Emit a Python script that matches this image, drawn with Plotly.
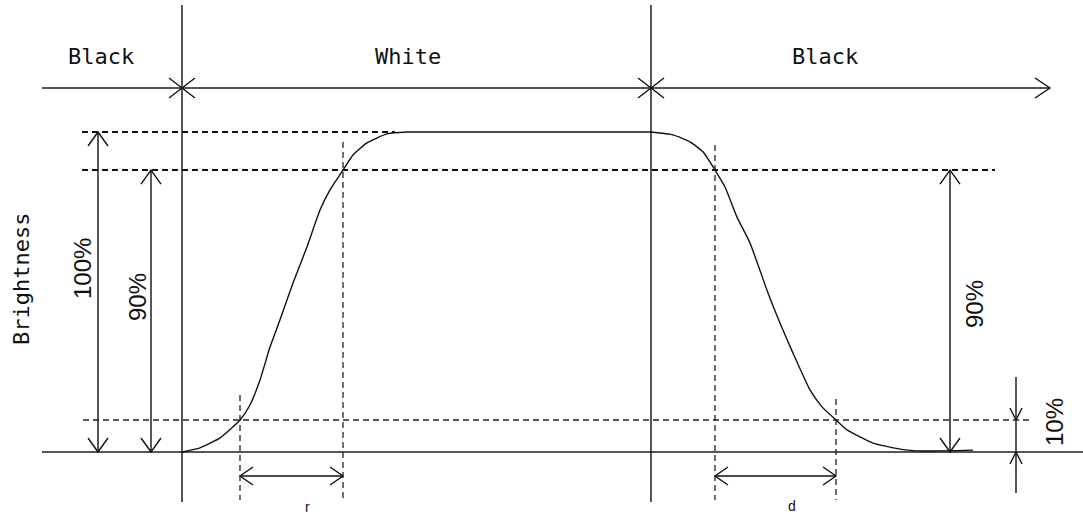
import plotly.graph_objects as go

# ---- diagram data (x: time units, y: brightness %) ----
# transition boundaries on the time axis
t_black_end = 182
t_white_end = 651
t_start = 42
t_axis_end = 1050
t_right_edge = 1083

# brightness levels
lvl_0 = 0
lvl_10 = 10
lvl_90 = 88.1
lvl_100 = 100
lvl_timeline = 113.75

# response curve (rise and fall)
rise_t = [182, 200, 220, 240, 250, 260, 270, 280, 293, 307, 320, 330, 343, 353, 367, 387, 407, 420, 651]
rise_b = [0, 1.3, 4.4, 10, 14.7, 22.5, 32.8, 41.3, 52.8, 64.1, 75.6, 81.9, 88.1, 92.8, 96.6, 99.4, 100, 100, 100]
fall_t = [651, 673, 690, 703, 715, 725, 737, 750, 768, 780, 793, 810, 822, 836, 847, 873, 900, 923, 973]
fall_b = [100, 99.1, 96.9, 93.8, 88.1, 82.8, 73.4, 65.3, 49.7, 40.3, 30.9, 19.4, 14.1, 10, 6.9, 2.8, 0.9, 0.3, 0.6]

# crossing times
t_rise10, t_rise90 = 240, 343
t_fall90, t_fall10 = 715, 836

# labels
segment_labels = ["Black", "White", "Black"]
segment_label_t = [101, 408, 825]
y_title = "Brightness"

# ---- pixel helpers for figure geometry ----
W, H = 1083, 515
PX_PER_B = 3.2
B_BASE_PX = 452
b_top = B_BASE_PX / PX_PER_B
b_bot = (B_BASE_PX - H) / PX_PER_B


def bpx(px):
    """brightness units for a pixel length"""
    return px / PX_PER_B


def seg(store, x0, y0, x1, y1):
    store[0] += [x0, x1, None]
    store[1] += [y0, y1, None]


def vhead(store, x, y, up, hw=10, ln=14):
    d = -bpx(ln) if up else bpx(ln)
    store[0] += [x - hw, x, x + hw, None]
    store[1] += [y + d, y, y + d, None]


def hhead(store, x, y, right, hh=9, ln=13):
    d = -ln if right else ln
    store[0] += [x + d, x, x + d, None]
    store[1] += [y + bpx(hh), y, y - bpx(hh), None]


def cross(store, x, y, hw=13, hh=10):
    seg(store, x - hw, y - bpx(hh), x + hw, y + bpx(hh))
    seg(store, x - hw, y + bpx(hh), x + hw, y - bpx(hh))


fig = go.Figure()

# gray axes lines
gray = [[], []]
seg(gray, t_start, lvl_0, t_right_edge, lvl_0)
seg(gray, t_start, lvl_timeline, t_axis_end, lvl_timeline)
fig.add_trace(go.Scatter(x=gray[0], y=gray[1], mode="lines",
                         line=dict(color="#555555", width=2), hoverinfo="skip"))

# black solid lines
blk = [[], []]
v_top = bpx(B_BASE_PX - 5)
v_bot = -bpx(502 - B_BASE_PX)
seg(blk, t_black_end, v_top, t_black_end, v_bot)
seg(blk, t_white_end, v_top, t_white_end, v_bot)
cross(blk, t_black_end, lvl_timeline)
cross(blk, t_white_end, lvl_timeline)
hhead(blk, t_axis_end, lvl_timeline, True, hh=10, ln=15)
# vertical dimension arrows
for x, top in [(98, lvl_100), (151, lvl_90), (950, lvl_90)]:
    seg(blk, x, top, x, lvl_0)
    vhead(blk, x, top, True)
    vhead(blk, x, lvl_0, False)
# 10% arrow
x10 = 1016
seg(blk, x10, bpx(B_BASE_PX - 377), x10, -bpx(493 - B_BASE_PX))
vhead(blk, x10, lvl_10, False, hw=6, ln=12)
vhead(blk, x10, lvl_0, True, hw=6, ln=12)
# r / d arrows
y_rd = -bpx(476 - B_BASE_PX)
for a, b in [(t_rise10, t_rise90), (t_fall90, t_fall10)]:
    seg(blk, a, y_rd, b, y_rd)
    hhead(blk, a, y_rd, False)
    hhead(blk, b, y_rd, True)
fig.add_trace(go.Scatter(x=blk[0], y=blk[1], mode="lines",
                         line=dict(color="#111111", width=1.4), hoverinfo="skip"))

# curve
fig.add_trace(go.Scatter(x=rise_t + fall_t, y=rise_b + fall_b, mode="lines",
                         line=dict(color="#111111", width=1.4, shape="spline", smoothing=0.5),
                         hoverinfo="skip"))

# bold dashed level lines
dash_b = [[], []]
seg(dash_b, 82, lvl_100, 395, lvl_100)
seg(dash_b, 82, lvl_90, 995, lvl_90)
fig.add_trace(go.Scatter(x=dash_b[0], y=dash_b[1], mode="lines",
                         line=dict(color="#111111", width=2, dash="6px,4px"), hoverinfo="skip"))

# thin dashed lines
dash_t = [[], []]
seg(dash_t, 83, lvl_10, 1033, lvl_10)
low = -bpx(500 - B_BASE_PX)
seg(dash_t, t_rise10, bpx(B_BASE_PX - 395), t_rise10, low)
seg(dash_t, t_rise90, bpx(B_BASE_PX - 142), t_rise90, low)
seg(dash_t, t_fall90, bpx(B_BASE_PX - 145), t_fall90, low)
seg(dash_t, t_fall10, bpx(B_BASE_PX - 399), t_fall10, low)
fig.add_trace(go.Scatter(x=dash_t[0], y=dash_t[1], mode="lines",
                         line=dict(color="#222222", width=1.3, dash="6px,4px"), hoverinfo="skip"))

mono = dict(family="DejaVu Sans Mono", size=22, color="#111111")
sans = dict(family="Liberation Sans Narrow, Arial Narrow, Liberation Sans", size=24, color="#111111")
for lab, t in zip(segment_labels, segment_label_t):
    fig.add_annotation(x=t, y=bpx(B_BASE_PX - 56), text=lab, showarrow=False, font=mono)
fig.add_annotation(x=21, y=bpx(B_BASE_PX - 279), text=y_title, showarrow=False, font=mono, textangle=-90)
pct = [("100%", 82, 269), ("90%", 137, 297), ("90%", 974, 304), ("10%", 1054, 422)]
for txt, x, py in pct:
    fig.add_annotation(x=x, y=bpx(B_BASE_PX - py), text=txt, showarrow=False, font=sans, textangle=-90)
small = dict(family="Liberation Sans, Arial", size=14, color="#111111")
fig.add_annotation(x=307, y=bpx(B_BASE_PX - 507), text="r", showarrow=False, font=small)
fig.add_annotation(x=792, y=bpx(B_BASE_PX - 506), text="d", showarrow=False, font=small)

fig.update_layout(width=W, height=H, margin=dict(l=0, r=0, t=0, b=0),
                  plot_bgcolor="white", paper_bgcolor="white", showlegend=False)
fig.update_xaxes(range=[0, W], visible=False, fixedrange=True)
fig.update_yaxes(range=[b_bot, b_top], visible=False, fixedrange=True)

fig.write_html("out.html", config={"displayModeBar": False},
               post_script="document.body.style.margin='0';document.body.style.overflow='hidden';")
